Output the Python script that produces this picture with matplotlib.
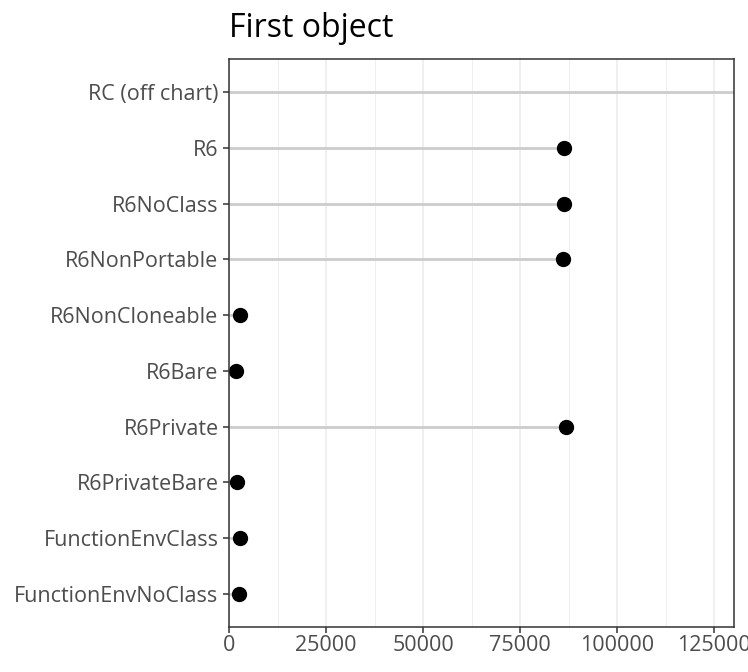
import matplotlib
matplotlib.use("Agg")
import matplotlib.pyplot as plt
import numpy as np

categories = ["RC (off chart)", "R6", "R6NoClass", "R6NonPortable", "R6NonCloneable",
              "R6Bare", "R6Private", "R6PrivateBare", "FunctionEnvClass", "FunctionEnvNoClass"]
values = [1000000, 86400, 86400, 86000, 2750, 1700, 86800, 2060, 2750, 2500]
x_ticks = [0, 25000, 50000, 75000, 100000, 125000]
x_minor = [12500, 37500, 62500, 87500, 112500]
title = "First object"
xmax = 130150

plt.rcParams['font.family'] = ['Open Sans', 'DejaVu Sans']
fig = plt.figure(figsize=(7.48, 6.72), dpi=100)
ax = fig.add_axes([229/748, 1-627/672, (734-229)/748, (627-59)/672])

n = len(categories)
ypos = np.arange(n)[::-1]
for c in x_ticks:
    ax.axvline(c, color="#EBEBEB", lw=1.1, zorder=0)
for c in x_minor:
    ax.axvline(c, color="#EBEBEB", lw=0.55, zorder=0)

ax.hlines(ypos, 0, values, color="#CCCCCC", lw=2, zorder=1)
vis = [i for i, v in enumerate(values) if v <= xmax]
ax.scatter([values[i] for i in vis], [ypos[i] for i in vis], s=100, color="black", zorder=2)

ax.set_xlim(0, xmax)
ax.set_ylim(-0.6, n - 1 + 0.6)
ax.set_yticks(ypos)
ax.set_yticklabels(categories)
ax.set_xticks(x_ticks)
ax.set_xticklabels([str(t) for t in x_ticks])
ax.tick_params(axis="both", colors="#333333", labelcolor="#4D4D4D", labelsize=15.5, length=4, width=1.1)
ax.tick_params(axis="x", pad=2)
for s in ax.spines.values():
    s.set_color("#333333")
    s.set_linewidth(1.1)
ax.set_title(title, loc="left", fontsize=23, pad=16, color="black")

fig.savefig("out.png", dpi=100)
